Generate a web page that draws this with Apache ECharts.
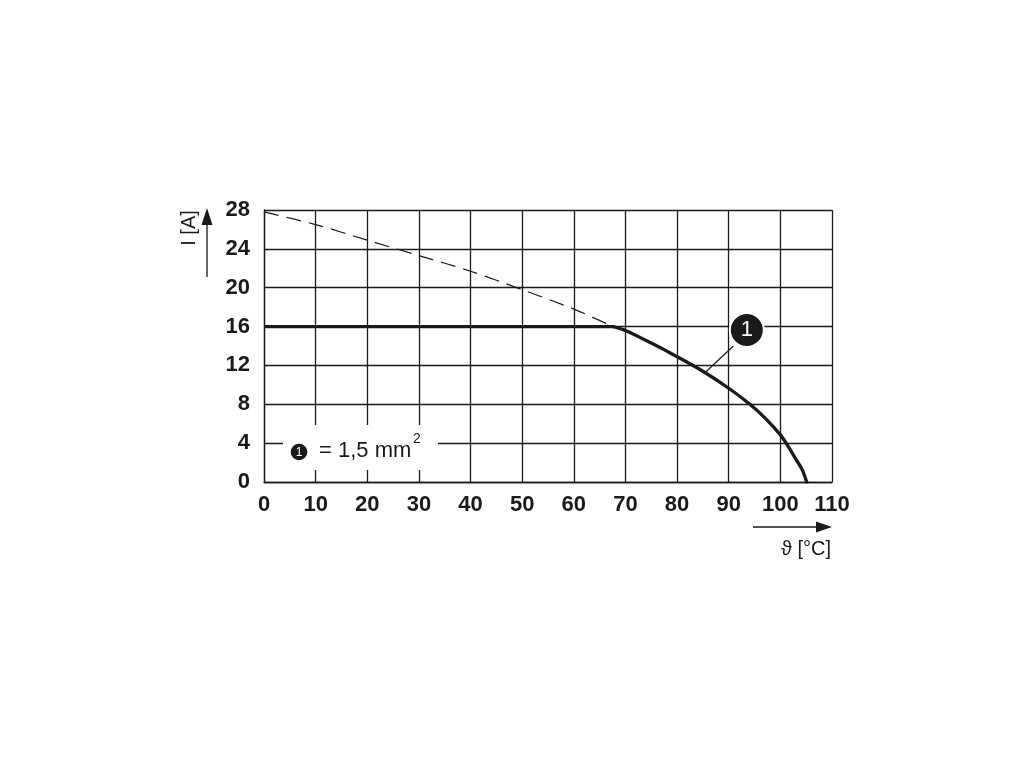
<!DOCTYPE html>
<html><head><meta charset="utf-8">
<script src="https://cdn.jsdelivr.net/npm/echarts@6/dist/echarts.min.js"></script>
<style>html,body{margin:0;padding:0;background:#fff}#c{width:1020px;height:765px}</style>
</head><body><div id="c"></div>
<script>
// Data
const xTicks = [0,10,20,30,40,50,60,70,80,90,100,110];
const yTicks = [0,4,8,12,16,20,24,28];
// Solid derating curve (1,5 mm²): [temperature °C, current A]
const flatSegment = [[0,16],[67.6,16]];
const deratingCurve = [[67.6,16],[70,15.6],[75,14.3],[80,12.9],[85,11.4],[90,9.65],[94.1,8],[97,6.6],[100,4.85],[101.6,3.6],[103,2.35],[104.2,1.3],[105.1,0]];
// Dashed basic curve
const basicCurve = [[0,27.8],[10,26.5],[20,24.9],[30,23.3],[40,21.7],[50,19.8],[60,17.8],[67.6,16]];
// Callout "1" and its leader line
const calloutPoint = [[93.5,15.65]];
const leaderLine = [[85.6,11.35],[90.9,14.0]];
const legendLabel = '= 1,5 mm';

const chart = echarts.init(document.getElementById('c'), null, {renderer:'canvas'});
const FONT = '"Liberation Sans", Arial, sans-serif';
const ink = '#1a1a1a';
chart.setOption({
  backgroundColor:'#fff',
  animation:false,
  grid:{left:264, right:188, top:210, bottom:283, containLabel:false},
  xAxis:{type:'value', min:0, max:110, interval:10,
    axisLine:{show:true, lineStyle:{color:ink, width:1.3}},
    axisTick:{show:false},
    splitLine:{show:true, lineStyle:{color:ink, width:1.3}},
    axisLabel:{fontFamily:FONT, fontWeight:'bold', fontSize:22, color:ink, margin:12}
  },
  yAxis:{type:'value', min:0, max:28, interval:4,
    axisLine:{show:true, lineStyle:{color:ink, width:1.3}},
    axisTick:{show:false},
    splitLine:{show:true, lineStyle:{color:ink, width:1.3}},
    axisLabel:{fontFamily:FONT, fontWeight:'bold', fontSize:22, color:ink, margin:14}
  },
  series:[
    {type:'line', data:basicCurve, smooth:0.3, symbol:'none', z:3,
     lineStyle:{color:ink, width:1.2, type:[15,8]}},
    {type:'line', data:flatSegment, symbol:'none', z:4,
     lineStyle:{color:ink, width:3.3}},
    {type:'line', data:deratingCurve, smooth:0.3, symbol:'none', z:4,
     lineStyle:{color:ink, width:3.3, cap:'round', join:'round'}},
    {type:'line', data:leaderLine, symbol:'none', z:5,
     lineStyle:{color:ink, width:1.2}},
    {type:'scatter', data:calloutPoint, symbol:'circle', symbolSize:34, z:6,
     itemStyle:{color:ink, opacity:1, borderColor:'#fff', borderWidth:2},
     label:{show:true, position:'inside', formatter:'1', color:'#fff', fontFamily:FONT, fontSize:22}}
  ],
  graphic:[
    // legend box
    {type:'rect', shape:{x:283, y:425, width:155, height:45}, style:{fill:'#fff', stroke:null}, z:10},
    {type:'circle', shape:{cx:299, cy:452, r:8.3}, style:{fill:ink}, z:11},
    {type:'text', x:299, y:452.5, style:{text:'1', fill:'#fff', font:'12px '+FONT, align:'center', verticalAlign:'middle'}, z:12},
    {type:'text', x:319, y:451, style:{text:legendLabel, fill:ink, font:'22px '+FONT, align:'left', verticalAlign:'middle'}, z:11},
    {type:'text', x:413, y:439, style:{text:'2', fill:ink, font:'14px '+FONT, align:'left', verticalAlign:'middle'}, z:11},
    // y axis arrow and name
    {type:'line', shape:{x1:207, y1:277, x2:207, y2:222}, style:{stroke:ink, lineWidth:1.3}},
    {type:'polygon', shape:{points:[[201.5,225],[212.5,225],[207,208]]}, style:{fill:ink}},
    {type:'text', x:189, y:228, rotation:Math.PI/2, style:{text:'I [A]', fill:ink, font:'20px '+FONT, align:'center', verticalAlign:'middle'}},
    // x axis arrow and name
    {type:'line', shape:{x1:753, y1:527, x2:818, y2:527}, style:{stroke:ink, lineWidth:1.3}},
    {type:'polygon', shape:{points:[[816,521.5],[816,532.5],[832,527]]}, style:{fill:ink}},
    {type:'text', x:831, y:549, style:{text:'ϑ [°C]', fill:ink, font:'20px '+FONT, align:'right', verticalAlign:'middle'}}
  ]
});
</script></body></html>
